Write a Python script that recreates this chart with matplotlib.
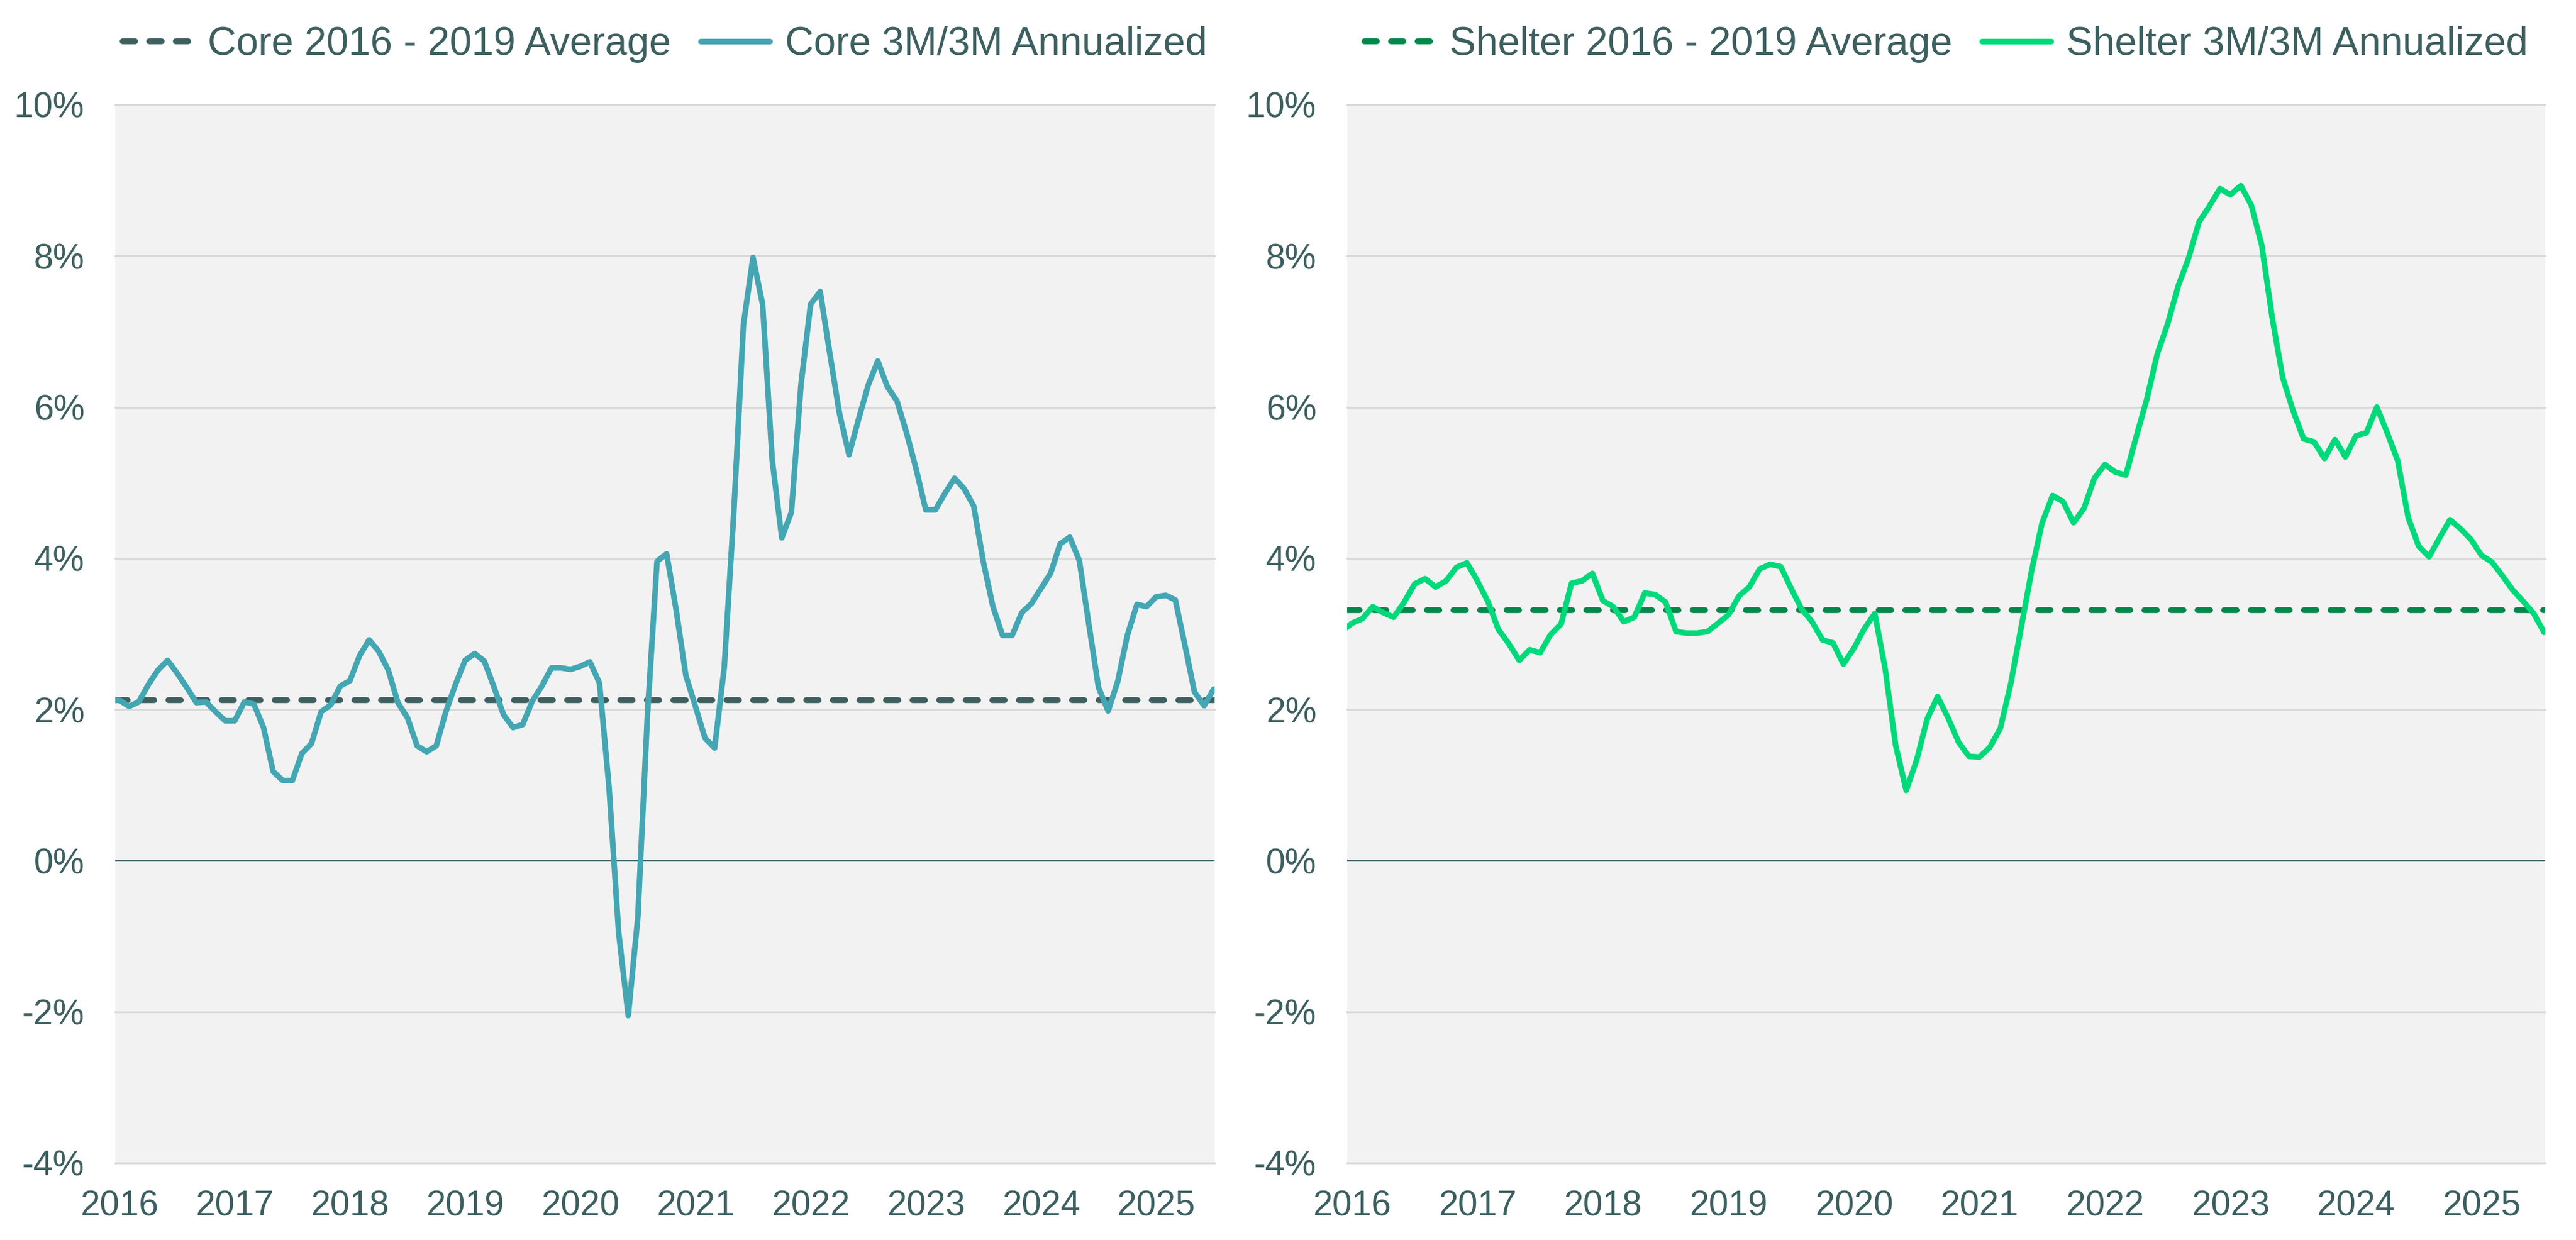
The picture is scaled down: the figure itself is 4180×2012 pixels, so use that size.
import numpy as np
import pandas as pd
import matplotlib
matplotlib.use("Agg")
import matplotlib.pyplot as plt
from matplotlib.ticker import FuncFormatter

plt.rcParams['font.family'] = ['Liberation Sans', 'DejaVu Sans']

# === Data (monthly, Dec 2015 - Jul 2025) ===
months = pd.period_range('2015-12', '2025-07', freq='M')

core_3m = [
    2.12,
    2.12, 2.04, 2.10, 2.33, 2.52, 2.65, 2.48, 2.29, 2.09, 2.10, 1.97, 1.85,   # 2016
    1.85, 2.10, 2.07, 1.76, 1.18, 1.06, 1.06, 1.42, 1.55, 1.97, 2.06, 2.31,   # 2017
    2.38, 2.71, 2.92, 2.77, 2.52, 2.09, 1.89, 1.52, 1.44, 1.52, 1.97, 2.33,   # 2018
    2.65, 2.74, 2.64, 2.30, 1.93, 1.76, 1.80, 2.11, 2.31, 2.55, 2.55, 2.53,   # 2019
    2.57, 2.63, 2.35, 0.97, -0.95, -2.05, -0.75, 1.93, 3.96, 4.06, 3.31, 2.45,  # 2020
    2.04, 1.62, 1.49, 2.55, 4.61, 7.09, 7.98, 7.36, 5.30, 4.27, 4.61, 6.30,   # 2021
    7.36, 7.53, 6.71, 5.92, 5.37, 5.84, 6.29, 6.61, 6.27, 6.08, 5.66, 5.18,   # 2022
    4.64, 4.64, 4.86, 5.06, 4.92, 4.69, 3.95, 3.36, 2.98, 2.98, 3.28, 3.40,   # 2023
    3.60, 3.80, 4.19, 4.28, 3.97, 3.12, 2.29, 1.98, 2.37, 2.98, 3.39, 3.36,   # 2024
    3.49, 3.51, 3.45, 2.85, 2.23, 2.05, 2.27,                                 # 2025
]

shelter_3m = [
    3.03,
    3.14, 3.20, 3.36, 3.28, 3.22, 3.42, 3.66, 3.73, 3.62, 3.70, 3.88, 3.94,   # 2016
    3.70, 3.43, 3.06, 2.87, 2.65, 2.79, 2.75, 2.99, 3.13, 3.67, 3.70, 3.80,   # 2017
    3.44, 3.36, 3.16, 3.22, 3.54, 3.52, 3.42, 3.03, 3.01, 3.01, 3.03, 3.14,   # 2018
    3.25, 3.50, 3.62, 3.86, 3.92, 3.89, 3.60, 3.33, 3.16, 2.92, 2.88, 2.60,   # 2019
    2.81, 3.07, 3.27, 2.53, 1.52, 0.93, 1.33, 1.87, 2.17, 1.89, 1.57, 1.38,   # 2020
    1.37, 1.50, 1.75, 2.34, 3.09, 3.84, 4.47, 4.83, 4.75, 4.47, 4.66, 5.06,   # 2021
    5.24, 5.14, 5.10, 5.61, 6.10, 6.70, 7.10, 7.60, 7.97, 8.45, 8.66, 8.89,   # 2022
    8.81, 8.93, 8.67, 8.14, 7.18, 6.39, 5.95, 5.58, 5.54, 5.32, 5.57, 5.34,   # 2023
    5.62, 5.66, 6.00, 5.66, 5.29, 4.54, 4.16, 4.02, 4.27, 4.51, 4.39, 4.25,   # 2024
    4.04, 3.95, 3.77, 3.58, 3.43, 3.27, 3.02,                                 # 2025
]

core_avg = 2.12
shelter_avg = 3.31

years = list(range(2016, 2026))
y_ticks = [-4, -2, 0, 2, 4, 6, 8, 10]

# month index, Jan 2016 = 0
x = np.array([(p.year - 2016) * 12 + (p.month - 1) for p in months])
year_pos = [(y - 2016) * 12 for y in years]

# === Styles ===
TEXT = '#3d5f5f'
GRID = '#d9d9d9'
BG = '#f2f2f2'

panels = [
    dict(vals=core_3m, avg=core_avg, name='Core',
         line_c='#44a6b3', avg_c='#3d5f5f',
         rect=[0.04474, 0.06213, 0.42679, 0.85338]),
    dict(vals=shelter_3m, avg=shelter_avg, name='Shelter',
         line_c='#00d97a', avg_c='#00874a',
         rect=[0.52297, 0.06213, 0.46507, 0.85338]),
]

fig = plt.figure(figsize=(4180 / 300, 2012 / 300), dpi=300)

for p in panels:
    ax = fig.add_axes(p['rect'])
    ax.set_facecolor(BG)

    for t in y_ticks:
        if t == 0:
            continue
        ax.axhline(t, color=GRID, lw=0.7, zorder=1, clip_on=False)
    ax.axhline(0, color=TEXT, lw=0.75, zorder=2)

    ax.axhline(p['avg'], color=p['avg_c'], lw=2.3, zorder=3,
               dashes=(2.1, 2.4), dash_capstyle='round',
               label=f"{p['name']} 2016 - 2019 Average")
    ax.plot(x, p['vals'], color=p['line_c'], lw=2.2, zorder=4,
            solid_joinstyle='round', solid_capstyle='round',
            label=f"{p['name']} 3M/3M Annualized")

    ax.set_xlim(-0.45, 114.1)
    ax.set_ylim(-4, 10)
    ax.set_xticks(year_pos)
    ax.set_xticklabels([str(y) for y in years])
    ax.set_yticks(y_ticks)
    ax.yaxis.set_major_formatter(FuncFormatter(lambda v, pos: f"{v:.0f}%"))
    ax.tick_params(axis='both', length=0, labelsize=13.7, colors=TEXT)
    ax.tick_params(axis='y', pad=12)
    ax.tick_params(axis='x', pad=10.5)
    for s in ax.spines.values():
        s.set_visible(False)

    leg = ax.legend(loc='center', bbox_to_anchor=(0.5, 1.057), ncol=2,
                    frameon=False, fontsize=15.4, handlelength=1.75,
                    handletextpad=0.4, columnspacing=0.75)
    for txt in leg.get_texts():
        txt.set_color(TEXT)

fig.savefig('out.png', dpi=300, facecolor='white')
